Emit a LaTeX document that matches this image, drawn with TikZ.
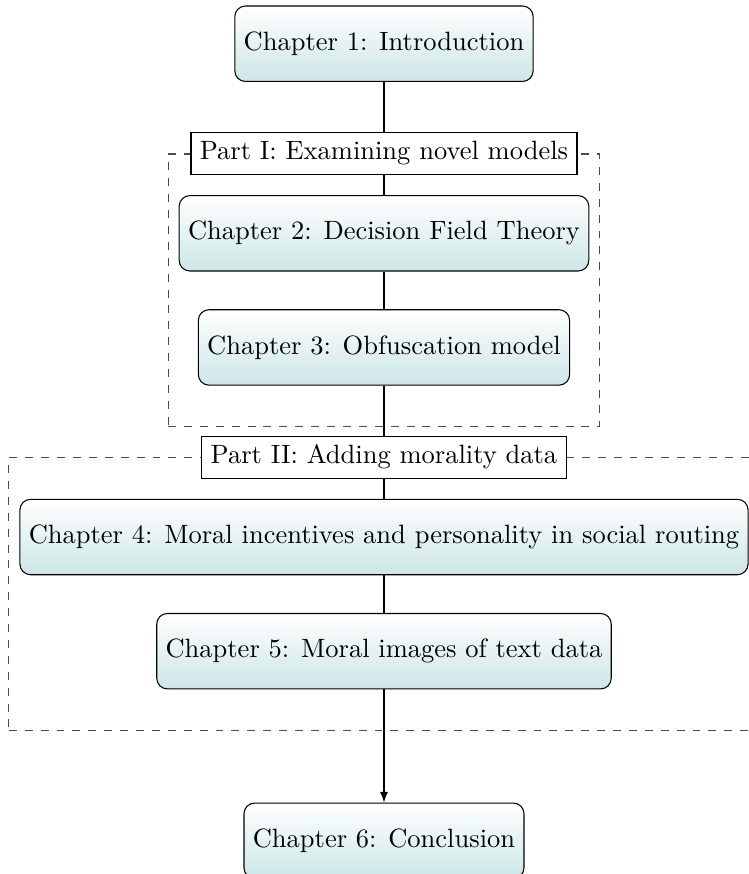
\documentclass[tikz,border=0pt]{standalone}
\usepackage{amsmath}
\usepackage{amssymb}
\usepackage{tikz}
\usetikzlibrary{shapes,arrows,positioning,fit}

\begin{document}
\begin{tikzpicture}[
    node distance=1.5cm,
    chapter/.style={draw, rounded corners, minimum height=1cm, align=center, top color=white, bottom color=teal!20},
    part/.style={draw, fill=white},
    partbox/.style={draw=black!70, dashed, inner xsep=4pt, inner ysep=15.5pt},
    arrow/.style={-latex}
]
\useasboundingbox (-144.9pt,16.5pt) rectangle (137.7pt,-313.3pt);
\node[chapter] (ch1) {Chapter 1: Introduction};
\node[chapter] (ch2) [below=of ch1] {Chapter 2: Decision Field Theory};
\node[chapter] (ch3) [below=0.5cm of ch2] {Chapter 3: Obfuscation model};
\node[chapter] (ch4) [below=of ch3] {Chapter 4: Moral incentives and personality in social routing};
\node[chapter] (ch5) [below=0.5cm of ch4] {Chapter 5: Moral images of text data};
\node[chapter] (ch6) [below=of ch5] {Chapter 6: Conclusion};
\draw (ch1) -- (ch2);
\draw (ch2) -- (ch3);
\draw (ch3) -- (ch4);
\draw (ch4) -- (ch5);
\draw[arrow] (ch5) -- (ch6);
% part frames
\node[partbox, fit=(ch2)(ch3)] (part1box) {};
\node[part] (part1) at (part1box.north) {Part I: Examining novel models};
\node[partbox, fit=(ch4)(ch5)] (part2box) {};
\node[part] (part2) at (part2box.north) {Part II: Adding morality data};
\end{tikzpicture}
\end{document}
